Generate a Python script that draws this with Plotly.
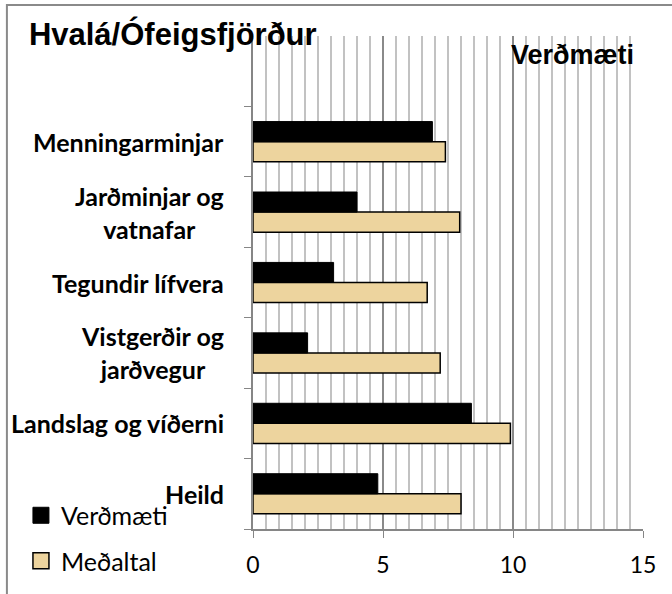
import plotly.graph_objects as go

categories = ["Heild", "Landslag og víðerni", "Vistgerðir og<br>jarðvegur",
              "Tegundir lífvera", "Jarðminjar og<br>vatnafar", "Menningarminjar"]
verdmaeti = [4.8, 8.4, 2.1, 3.1, 4.0, 6.9]
medaltal = [8.0, 9.9, 7.2, 6.7, 7.95, 7.4]
x_ticks = [0, 5, 10, 15]
series_names = ["Verðmæti", "Meðaltal"]
title_text = "Hvalá/Ófeigsfjörður"
corner_label = "Verðmæti"

TAN = "#EDD49E"
LABEL_FONT = "Lato"

fig = go.Figure()
# tan (Meðaltal) first -> lower bar in each group
fig.add_trace(go.Bar(y=categories, x=medaltal, orientation="h", name=series_names[1],
                     marker=dict(color=TAN, line=dict(color="black", width=1.5)),
                     showlegend=False))
fig.add_trace(go.Bar(y=categories, x=verdmaeti, orientation="h", name=series_names[0],
                     marker=dict(color="black", line=dict(color="black", width=1)),
                     showlegend=False))
# legend proxies
fig.add_trace(go.Scatter(x=[None], y=[None], mode="markers", name=series_names[0],
                         legendgroup="a",
                         marker=dict(symbol="square", size=18, color="black",
                                     line=dict(color="black", width=1))))
fig.add_trace(go.Scatter(x=[None], y=[None], mode="markers", name=series_names[1],
                         legendgroup="b",
                         marker=dict(symbol="square", size=18, color=TAN,
                                     line=dict(color="black", width=1.5))))

for c in categories:
    fig.add_annotation(x=0, xref="paper", xanchor="right", xshift=-27,
                       y=c, yref="y", yanchor="middle",
                       text=f"<b>{c}</b>", align="center", showarrow=False,
                       font=dict(family=LABEL_FONT, size=25, color="black"))

fig.add_annotation(x=0.82, xref="paper", y=0.962, yref="paper",
                   text=f"<b>{corner_label}</b>", showarrow=False,
                   xanchor="center", yanchor="middle",
                   font=dict(family="Liberation Sans", size=27, color="black"))

fig.add_shape(type="rect", xref="paper", yref="paper",
              x0=-0.631, x1=2, y0=-1, y1=1.063,
              line=dict(color="#8a8a8a", width=2), layer="above")

fig.update_layout(
    width=672, height=594,
    margin=dict(l=253, r=29, t=36, b=65, autoexpand=False),
    paper_bgcolor="white", plot_bgcolor="white",
    barmode="group", bargap=0.43, bargroupgap=0,
    title=dict(text=f"<b>{title_text}</b>", x=0.043, xanchor="left",
               y=0.943, yanchor="middle",
               font=dict(family="Liberation Sans", size=31, color="black")),
    showlegend=True,
    legend=dict(x=-0.595, xanchor="left", y=0.074, yanchor="top",
                traceorder="grouped", tracegroupgap=10,
                font=dict(family=LABEL_FONT, size=25, color="black"),
                bgcolor="rgba(0,0,0,0)", itemwidth=30),
    xaxis=dict(range=[0, 15], tickvals=x_ticks, ticks="outside", ticklen=7,
               tickcolor="#868686", showgrid=True, gridcolor="#8a8a8a", gridwidth=1.5,
               zeroline=False, showline=True, linecolor="#868686", linewidth=1.5,
               tickfont=dict(family=LABEL_FONT, size=23, color="black"),
               ticklabelstandoff=8,
               minor=dict(dtick=0.5, tick0=0, showgrid=True, gridcolor="#c2c2c2",
                          gridwidth=1.5, ticks="")),
    yaxis=dict(type="category", categoryorder="array", categoryarray=categories,
               range=[-0.5, len(categories) + 0.5], tickson="boundaries",
               ticks="outside", ticklen=7, tickcolor="#868686",
               showticklabels=False, showgrid=False, zeroline=False,
               showline=True, linecolor="#868686", linewidth=1.5),
)

fig.write_html("out.html", config={"displayModeBar": False},
               post_script="document.body.style.margin='0';")
